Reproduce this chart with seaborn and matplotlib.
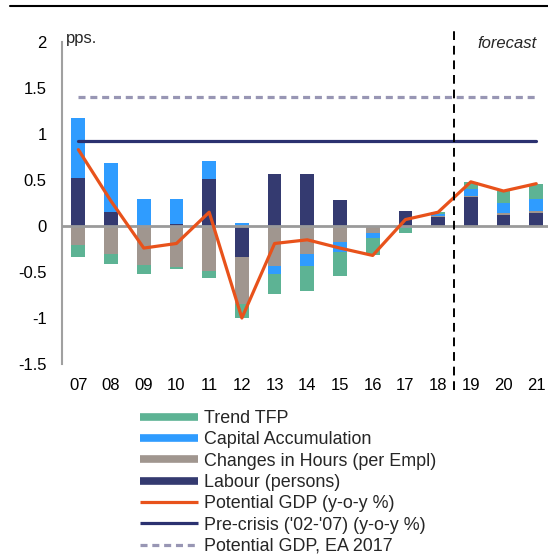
import numpy as np
import matplotlib
matplotlib.use("Agg")
import matplotlib.pyplot as plt
from matplotlib.lines import Line2D
import seaborn as sns

years = ['07', '08', '09', '10', '11', '12', '13', '14', '15', '16', '17', '18', '19', '20', '21']
labour = [0.525, 0.155, 0.0, 0.025, 0.51, -0.34, 0.565, 0.565, 0.285, 0.0, 0.16, 0.10, 0.31, 0.12, 0.14]
hours = [-0.21, -0.30, -0.42, -0.45, -0.49, -0.51, -0.43, -0.30, -0.17, -0.08, 0.0, 0.01, 0.02, 0.02, 0.02]
capital = [0.65, 0.535, 0.29, 0.265, 0.20, 0.03, -0.09, -0.13, -0.11, -0.05, -0.02, 0.02, 0.07, 0.11, 0.13]
tfp = [-0.13, -0.11, -0.10, -0.02, -0.07, -0.15, -0.22, -0.28, -0.26, -0.19, -0.06, 0.02, 0.075, 0.13, 0.17]
potential = [0.83, 0.27, -0.24, -0.19, 0.15, -1.0, -0.19, -0.15, -0.24, -0.32, 0.07, 0.15, 0.48, 0.38, 0.46]
pre_crisis = 0.92
ea_2017 = 1.40
yticks = [-1.5, -1, -0.5, 0, 0.5, 1, 1.5, 2]
ytick_labels = ['-1.5', '-1', '-0.5', '0', '0.5', '1', '1.5', '2']

c_tfp = '#5db394'
c_cap = '#2f9cff'
c_hrs = '#a0968f'
c_lab = '#343a70'
c_pot = '#e8521b'
c_pre = '#2b3170'
c_ea = '#9896b4'

sns.set_style('white')
plt.rcParams['font.family'] = ['Liberation Sans', 'DejaVu Sans']

fig = plt.figure(figsize=(5.48, 5.58), dpi=100)
ax = fig.add_axes([62 / 548, 194 / 558, (548 - 62) / 548, 322 / 558])

comps = [(labour, c_lab), (hours, c_hrs), (capital, c_cap), (tfp, c_tfp)]
pos_cum = np.zeros(len(years))
neg_cum = np.zeros(len(years))
layers = []
for vals, col in comps:
    v = np.array(vals, dtype=float)
    pos_cum = pos_cum + np.clip(v, 0, None)
    neg_cum = neg_cum + np.clip(v, None, 0)
    layers.append((pos_cum.copy(), neg_cum.copy(), col))

for pc, nc, col in reversed(layers):
    sns.barplot(x=years, y=pc, order=years, color=col, saturation=1, width=0.42,
                linewidth=0, ax=ax, zorder=2)
    sns.barplot(x=years, y=nc, order=years, color=col, saturation=1, width=0.42,
                linewidth=0, ax=ax, zorder=2)

xpos = np.arange(len(years))
ax.axhline(0, color='#9a9a9a', lw=2, zorder=3)
sns.lineplot(x=xpos, y=[ea_2017] * len(years), color=c_ea, lw=2.3, dashes=(2.2, 1.5), ax=ax, zorder=4)
sns.lineplot(x=xpos, y=[pre_crisis] * len(years), color=c_pre, lw=2.3, ax=ax, zorder=4)
sns.lineplot(x=xpos, y=potential, color=c_pot, lw=2.3, sort=False, ax=ax, zorder=5)

ax.axvline(11.5, ymin=-0.081, ymax=1.04, color='black', lw=1.4, dashes=(4.5, 3), clip_on=False, zorder=6)

ax.set_xlim(-0.5, 14.36)
ax.set_ylim(-1.5, 2)
ax.set_yticks(yticks)
ax.set_yticklabels(ytick_labels)
ax.set_xticks(xpos)
ax.set_xticklabels(years)
ax.set_xlabel('')
ax.set_ylabel('')
ax.tick_params(axis='both', length=0, labelsize=12, colors='black')
ax.tick_params(axis='y', pad=11)
ax.tick_params(axis='x', pad=10)
for s in ['top', 'right', 'bottom']:
    ax.spines[s].set_visible(False)
ax.spines['left'].set_color('#a0a0a0')
ax.spines['left'].set_linewidth(1.5)

ax.text(0.008, 2.04, 'pps.', transform=ax.get_yaxis_transform(), fontsize=12, va='center', ha='left')
fig.text(507 / 548, 1 - 43 / 558, 'forecast', fontsize=12, style='italic', va='center', ha='center')

fig.add_artist(Line2D([10 / 548, 1.0], [1 - 6 / 558, 1 - 6 / 558], color='black', lw=1.5))

handles = [
    Line2D([], [], color=c_tfp, lw=5.5, solid_capstyle='butt'),
    Line2D([], [], color=c_cap, lw=5.5, solid_capstyle='butt'),
    Line2D([], [], color=c_hrs, lw=5.5, solid_capstyle='butt'),
    Line2D([], [], color=c_lab, lw=5.5, solid_capstyle='butt'),
    Line2D([], [], color=c_pot, lw=2.3, solid_capstyle='butt'),
    Line2D([], [], color=c_pre, lw=2.3, solid_capstyle='butt'),
    Line2D([], [], color=c_ea, lw=2.3, dashes=(2.2, 1.5)),
]
labels = ['Trend TFP', 'Capital Accumulation', 'Changes in Hours (per Empl)', 'Labour (persons)',
          'Potential GDP (y-o-y %)', "Pre-crisis ('02-'07) (y-o-y %)", 'Potential GDP, EA 2017']
fig.legend(handles, labels, loc='upper left', bbox_to_anchor=(140 / 548, 1 - 410 / 558),
           frameon=False, fontsize=12.9, handlelength=3.24, handletextpad=0.35,
           labelspacing=0.24, borderpad=0, borderaxespad=0)

fig.savefig('out.png', dpi=100)
